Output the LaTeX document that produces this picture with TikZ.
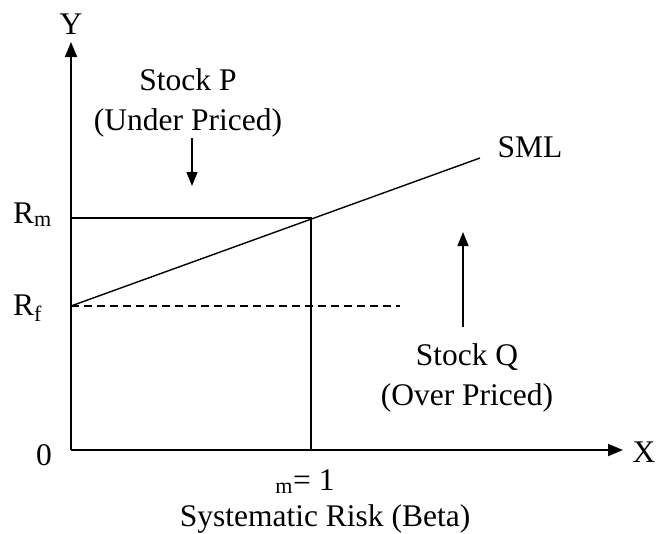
\documentclass[tikz,border=0pt]{standalone}
\usepackage{fontspec}
\setmainfont{Liberation Serif}
\usetikzlibrary{arrows.meta}
\begin{document}
\begin{tikzpicture}[x=1pt,y=-1pt,
  lbl/.style={inner sep=0pt,font=\fontsize{31.5}{39.5}\selectfont},
  axis/.style={line width=1.8pt,-{Triangle[length=15pt,width=12pt]}},
  thin/.style={line width=1.4pt},
  pointer/.style={line width=1.4pt,-{Triangle[length=14pt,width=11pt]}}]
\useasboundingbox (0,0) rectangle (656,533);
% axes
\coordinate (O) at (71,450);
\coordinate (ytip) at (71,42);
\coordinate (xtip) at (623,450);
\draw[axis] (O) -- (ytip);
\draw[axis] (O) -- (xtip);
\node[lbl] (ylab) at (71,24) {Y};
\node[lbl] (xlab) at (644,452) {X};
\node[lbl] (zero) at (44,455) {0};
% reference levels
\coordinate (rf) at (71,306);
\coordinate (rm) at (71,218);
\coordinate (mk) at (311,218);
\coordinate (mb) at (311,450);
\coordinate (smlend) at (480,158);
\coordinate (dashend) at (400,306);
\draw[thin] (rm) -- (mk) -- (mb);
\draw[thin,dash pattern=on 8pt off 5pt] (rf) -- (dashend);
\draw[thin] (rf) -- (smlend);
\node[lbl,anchor=base west] (rmlab) at (13,223) {R\textsubscript{m}};
\node[lbl,anchor=base west] (rflab) at (13,315) {R\textsubscript{f}};
\node[lbl] (sml) at (530,147) {SML};
% stock annotations
\node[lbl,align=center] (stockp) at (188,103) {Stock P\\(Under Priced)};
\coordinate (pa) at (192,138);
\coordinate (pb) at (192,186);
\draw[pointer] (pa) -- (pb);
\node[lbl,align=center] (stockq) at (467,378) {Stock Q\\(Over Priced)};
\coordinate (qa) at (463,327);
\coordinate (qb) at (463,232);
\draw[pointer] (qa) -- (qb);
% horizontal axis captions
\node[lbl,anchor=base] (beta) at (305,490) {\textsubscript{m}= 1};
\node[lbl,anchor=base] (xcap) at (325,526) {Systematic Risk (Beta)};
\end{tikzpicture}
\end{document}
